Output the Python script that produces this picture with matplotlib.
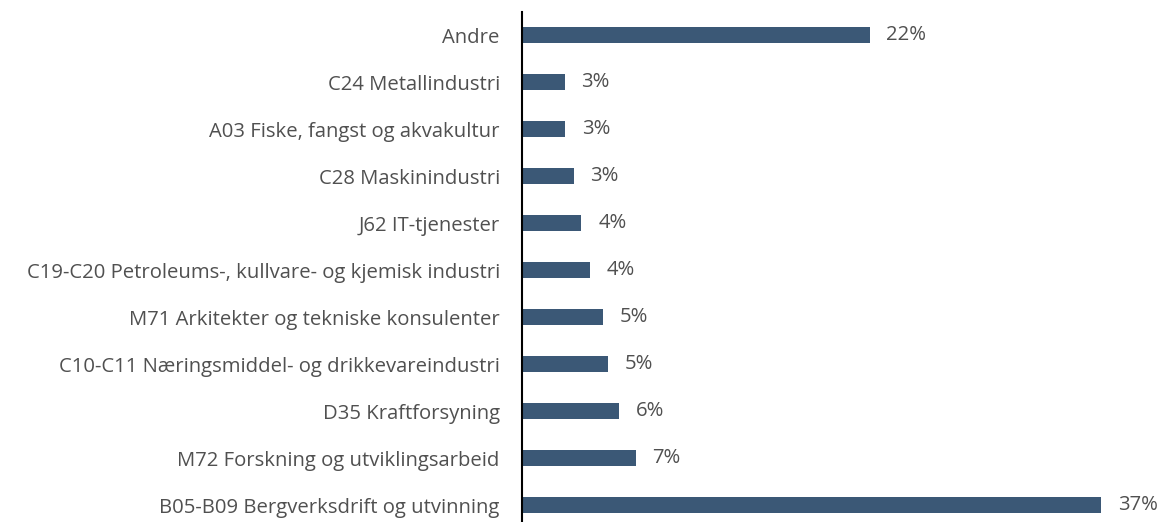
import matplotlib
matplotlib.use("Agg")
import matplotlib.pyplot as plt

categories = [
    "B05-B09 Bergverksdrift og utvinning",
    "M72 Forskning og utviklingsarbeid",
    "D35 Kraftforsyning",
    "C10-C11 Næringsmiddel- og drikkevareindustri",
    "M71 Arkitekter og tekniske konsulenter",
    "C19-C20 Petroleums-, kullvare- og kjemisk industri",
    "J62 IT-tjenester",
    "C28 Maskinindustri",
    "A03 Fiske, fangst og akvakultur",
    "C24 Metallindustri",
    "Andre",
]
values = [37.0, 7.25, 6.2, 5.5, 5.2, 4.35, 3.8, 3.3, 2.75, 2.72, 22.2]
labels = ["37%", "7%", "6%", "5%", "5%", "4%", "4%", "3%", "3%", "3%", "22%"]

plt.rcParams['font.family'] = ['Open Sans', 'DejaVu Sans']
text_color = "#505050"
bar_color = "#3B5876"
fs = 14.6

fig = plt.figure(figsize=(11.65, 5.22), dpi=100)
ax = fig.add_axes([522/1165, 0.0, (1130-522)/1165, 1 - 12/522])

y = list(range(len(categories)))
ax.barh(y, values, height=0.34, color=bar_color)
for yi, v, lab in zip(y, values, labels):
    ax.annotate(lab, (v, yi), xytext=(12, 0), textcoords="offset points",
                va="center", ha="left", fontsize=fs, color=text_color)

ax.set_yticks(y)
ax.set_yticklabels(categories, fontsize=fs, color=text_color)
ax.tick_params(axis="y", length=0, pad=16)
ax.set_xticks([])
ax.set_xlim(0, 37 * (1130 - 522) / 579.3)
ax.set_ylim(-0.36, 10.49)
for s in ["top", "right", "bottom"]:
    ax.spines[s].set_visible(False)
ax.spines["left"].set_color("black")
ax.spines["left"].set_linewidth(1.5)

fig.savefig("out.png", dpi=100)
